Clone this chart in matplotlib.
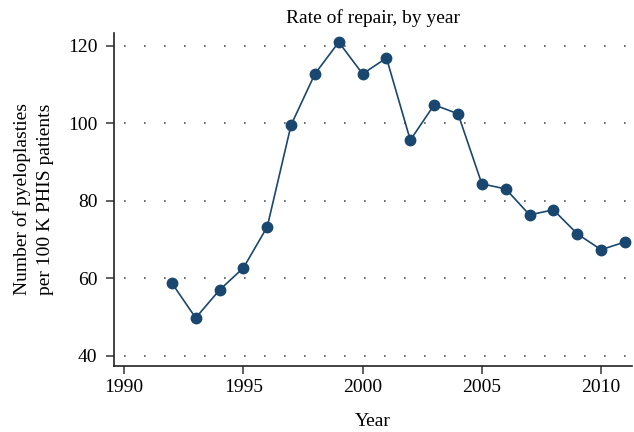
import matplotlib
matplotlib.use('Agg')
import matplotlib.pyplot as plt

years = list(range(1992, 2012))
rate = [58.8, 49.8, 57.0, 62.7, 73.3, 99.6, 112.8, 121.0, 112.8, 116.9,
        95.7, 104.8, 102.5, 84.4, 83.1, 76.4, 77.7, 71.5, 67.4, 69.4]
x_ticks = [1990, 1995, 2000, 2005, 2010]
y_ticks = [40, 60, 80, 100, 120]

plt.rcParams['font.family'] = ['Liberation Serif', 'DejaVu Serif']

fig = plt.figure(figsize=(6.34, 4.32), dpi=100)
ax = fig.add_axes([0.180, 0.153, 0.817, 0.771])

ax.plot(years, rate, color='#1a476f', lw=1.2, marker='o', ms=7.5,
        mec='#1a476f', mfc='#1a476f', zorder=3)

ax.set_xlim(1989.58, 2011.3)
ax.set_ylim(37.4, 123.4)
ax.set_xticks(x_ticks)
ax.set_yticks(y_ticks)
ax.grid(axis='y', color='#555555', linestyle=(6, (1, 11)), lw=1.2)
ax.grid(axis='x', visible=False)

for s in ['top', 'right']:
    ax.spines[s].set_visible(False)
for s in ['left', 'bottom']:
    ax.spines[s].set_linewidth(1.2)
    ax.spines[s].set_color('#222222')
ax.tick_params(length=6, width=1.2, color='#444444', labelsize=14)
ax.tick_params(axis='y', pad=6)

ax.set_xlabel('Year', fontsize=14, labelpad=12)
ax.set_ylabel('Number of pyeloplasties\nper 100 K PHIS patients', fontsize=14,
              labelpad=10, linespacing=1.45)
ax.set_title('Rate of repair, by year', fontsize=14, pad=7)

fig.savefig('out.png', dpi=100)
